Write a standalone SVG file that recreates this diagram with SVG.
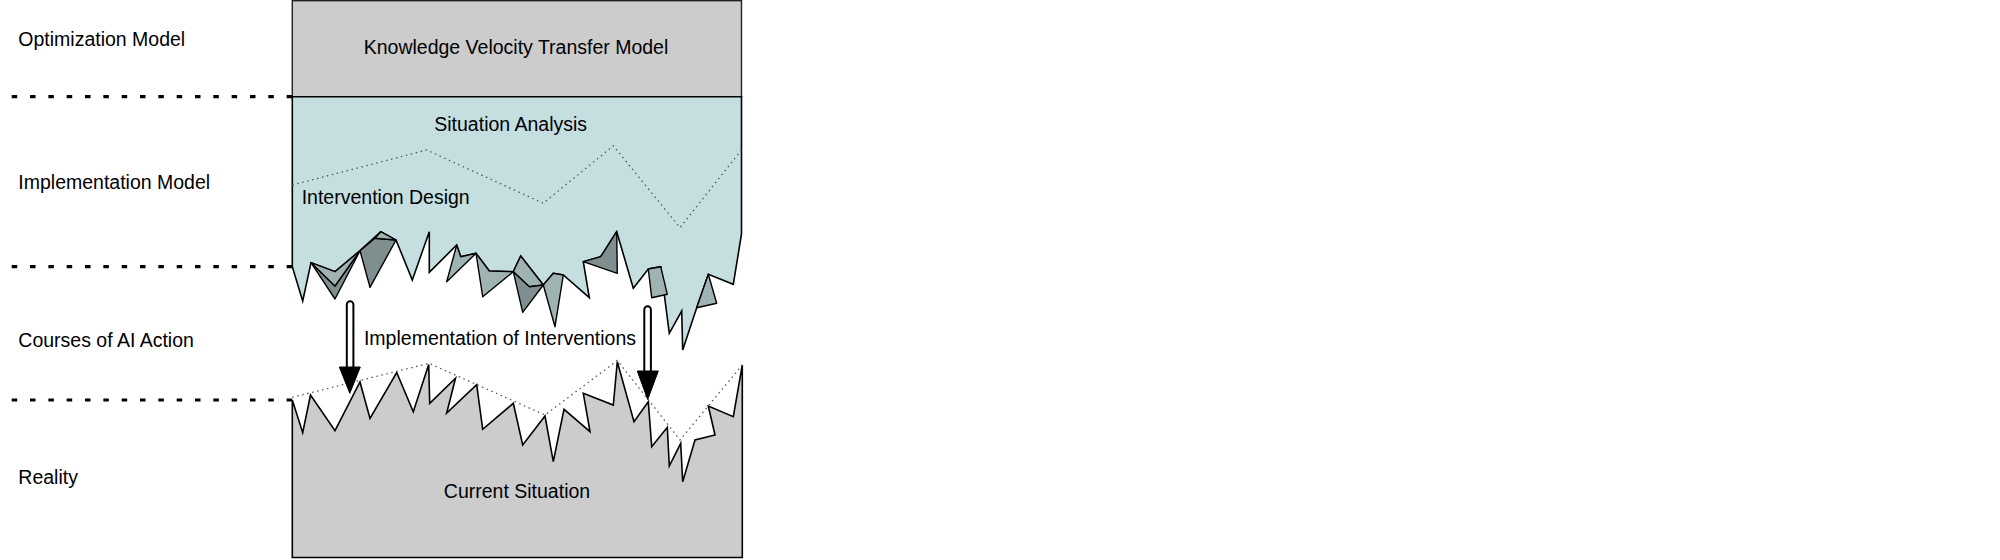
<svg xmlns="http://www.w3.org/2000/svg" width="2000" height="560" viewBox="0 0 2000 560">
<style>
text{font-family:"Liberation Sans",Arial,Helvetica,sans-serif;font-size:19.5px;fill:#000}
.mid{text-anchor:middle}
.sep{fill:none;stroke:#000;stroke-width:3.2;stroke-dasharray:5.5 12.83}
.dot{fill:none;stroke:#555;stroke-width:1.3;stroke-dasharray:1.5 3.6}
.edge{stroke:#000;stroke-width:1.6;stroke-linejoin:miter}
.lt{fill:#a0b3b3;stroke:#000;stroke-width:1.4;stroke-linejoin:round}
.dk{fill:#7f8f8f;stroke:#000;stroke-width:1.4;stroke-linejoin:round}
.shaft{fill:#fff;stroke:#000;stroke-width:2}
.head{fill:#000;stroke:#000;stroke-width:1}
</style>
<rect width="2000" height="560" fill="#fff"/>
<g id="layer-labels">
<text x="18.3" y="45.7">Optimization Model</text>
<text x="18.3" y="189">Implementation Model</text>
<text x="18.3" y="346.7">Courses of AI Action</text>
<text x="18.3" y="483.8">Reality</text>
</g>
<g id="separators">
<path class="sep" d="M11.7,96.7H292.3"/>
<path class="sep" d="M11.7,266.7H292.3"/>
<path class="sep" d="M11.7,400H292.3"/>
</g>
<g id="node-knowledge-velocity">
<rect x="292.3" y="0.7" width="449.2" height="96" fill="#cccccc" stroke="#222" stroke-width="1.4"/>
<text class="mid" x="516" y="54.3">Knowledge Velocity Transfer Model</text>
</g>
<g id="node-implementation-model">
<path class="edge" fill="#c5dfe0" d="M292.3,96.7 L741.5,96.7 L741.5,234 L733.3,284.3 L708.3,274.3 L696.7,307.7 L682.7,350 L681.7,311 L669.3,333.3 L660.7,266.7 L648.3,269 L633.3,288.3 L616.7,231.7 L600.7,256.7 L583.3,261.7 L589.3,297.7 L563.3,275 L553.3,273.3 L543.3,285 L520.7,256 L513.3,271.7 L489.3,271 L476,253.3 L460.7,256.7 L456.7,245 L429.3,272.3 L429.3,231.7 L412.3,280 L396,240 L380.7,231.7 L360,250.7 L335,271.7 L311,262.7 L302.7,301 L292.3,266.7 Z"/>
<path class="dk" d="M311,262.7 L335,286 L360,250.7 L335,299 Z"/>
<path class="lt" d="M311,262.7 L335,271.7 L360,250.7 L335,286 Z"/>
<path class="dk" d="M360,250.7 L375,238.3 L396,240 L370,287.3 Z"/>
<path class="lt" d="M375,238.3 L380.7,231.7 L396,240 Z"/>
<path class="lt" d="M456.7,245 L460.7,256.7 L476,253.3 L446.7,281.7 Z"/>
<path class="lt" d="M476,253.3 L489.3,271 L513.3,271.7 L482.7,296.7 Z"/>
<path class="lt" d="M513.3,271.7 L520.7,256 L543.3,285 L529.3,286.7 Z"/>
<path class="dk" d="M513.3,271.7 L529.3,286.7 L543.3,285 L522.7,312.3 Z"/>
<path class="lt" d="M543.3,285 L553.3,273.3 L563.3,275 L555,326.7 Z"/>
<path class="dk" d="M583.3,261.7 L600.7,256.7 L616.7,231.7 L617.3,273.3 Z"/>
<path class="lt" d="M648.3,269 L660.7,266.7 L667.3,294.3 L651.7,297.7 Z"/>
<path class="lt" d="M696.7,307.7 L708.3,274.3 L716.7,303.3 Z"/>
<path class="dot" d="M292.3,185 L426.7,150 L543.3,203.3 L613.3,145.7 L680,227.7 L741.5,150"/>
<text class="mid" x="510.7" y="130.7">Situation Analysis</text>
<text x="301.7" y="204">Intervention Design</text>
</g>
<g id="node-current-situation">
<path class="edge" fill="#cccccc" d="M292.3,400 L302.7,432.7 L310.5,395 L335,430.7 L360,382 L370,418.5 L396.7,372.5 L413.3,411.7 L428.7,364.5 L429.7,403.3 L455.5,378.3 L446.7,413 L476.7,384.7 L482.7,429.3 L513.3,403.3 L522.7,445 L545,416 L553.3,461.7 L564,409.3 L590,431.7 L583.3,393.3 L613.3,405 L617.3,361.7 L634,421.7 L648.3,401.7 L651.7,446.7 L667.3,427.3 L669.3,466 L680.7,443.3 L682.7,481.7 L695,440 L715,435 L708.3,406 L733.3,416.7 L742.3,365 L742.3,557.5 L292.3,557.5 Z"/>
<path class="dot" d="M292.3,397.3 L429,363.3 L545,415 L617.3,360.5 L680,440 L742.3,365"/>
<text class="mid" x="517" y="498.3">Current Situation</text>
</g>
<g id="connectors">
<path class="shaft" d="M346.8,367 V304.5 A3.3,3.3 0 0 1 353.4,304.5 V367"/>
<path class="head" d="M339.3,367 L360.3,367 L349.8,393.3 Z"/>
<path class="shaft" d="M644.3,371 V309.5 A3.3,3.3 0 0 1 650.9,309.5 V371"/>
<path class="head" d="M637.3,371 L658.3,371 L647.7,399.5 Z"/>
<text class="mid" x="500" y="345">Implementation of Interventions</text>
</g>
</svg>
